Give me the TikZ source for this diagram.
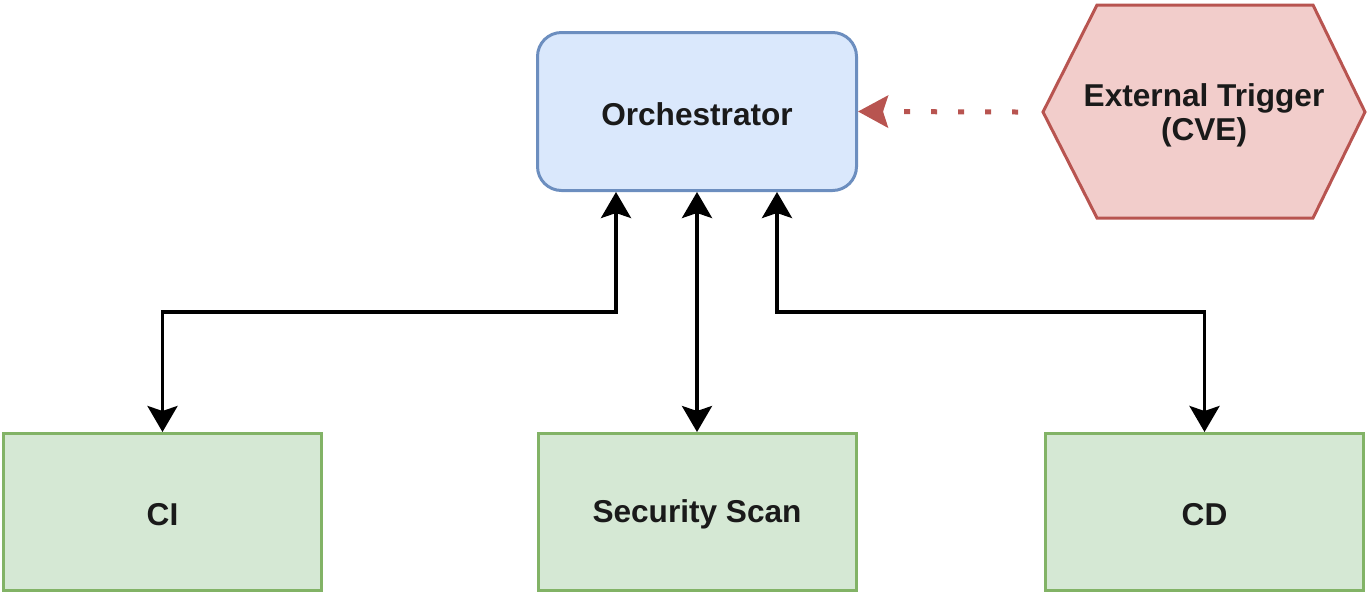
\documentclass[tikz,border=0pt]{standalone}
\usepackage{fontspec}
\setmainfont{Liberation Sans}
\usetikzlibrary{arrows.meta,positioning}
\definecolor{blueF}{HTML}{DAE8FC}
\definecolor{blueS}{HTML}{6C8EBF}
\definecolor{greenF}{HTML}{D5E8D4}
\definecolor{greenS}{HTML}{82B366}
\definecolor{redF}{HTML}{F2CDCB}
\definecolor{redS}{HTML}{B85450}
\definecolor{txt}{HTML}{1A1A1A}
\newcommand{\lowtxt}[1]{\raisebox{-1.2pt}[\height][\depth]{#1}}
\tikzset{
  lbl/.style={font=\fontsize{15.8}{17}\selectfont\bfseries, text=txt, align=center},
  greenbox/.style={lbl, draw=greenS, fill=greenF, line width=1.5pt, minimum width=159pt, minimum height=78.5pt, inner sep=0pt},
  bluebox/.style={lbl, draw=blueS, fill=blueF, line width=1.5pt, rounded corners=12pt, minimum width=159.5pt, minimum height=79pt, inner sep=0pt},
  conn/.style={draw=black, line width=1.8pt, {Stealth[length=13pt,width=15pt,inset=2.5pt]}-{Stealth[length=13pt,width=15pt,inset=2.5pt]}},
  dotarrow/.style={draw=redS, line width=2.5pt, dash pattern=on 3pt off 10.5pt, -{Stealth[length=15pt,width=16pt,inset=2.5pt]}},
}
\begin{document}
\begin{tikzpicture}[x=0.5pt,y=-0.5pt]
\useasboundingbox (0,0) rectangle (1368,596);
\node[bluebox] (orch) at (697,111.5) {\lowtxt{Orchestrator}};
\node[greenbox] (ci) at (162.5,512) {\lowtxt{CI}};
\node[greenbox] (sec) at (697,512) {\lowtxt{Security Scan}};
\node[greenbox] (cd) at (1204.5,512) {\lowtxt{CD}};
% hexagon
\draw[draw=redS, fill=redF, line width=1.5pt] (1043,112) -- (1097,5) -- (1313,5) -- (1365,112) -- (1313,218) -- (1097,218) -- cycle;
\coordinate (hexL) at (1043,112);
\node[lbl] (ext) at (1204,115.5) {External Trigger\\(CVE)};
% connectors
\draw[conn] ([xshift=-40.5pt]orch.south) -- ++(0,120) -| (ci.north);
\draw[conn] (orch.south) -- (sec.north);
\draw[conn] ([xshift=40pt]orch.south) -- ++(0,120) -| (cd.north);
\draw[dotarrow] ([xshift=-12.5pt]hexL) -- (orch.east);
\end{tikzpicture}
\end{document}
